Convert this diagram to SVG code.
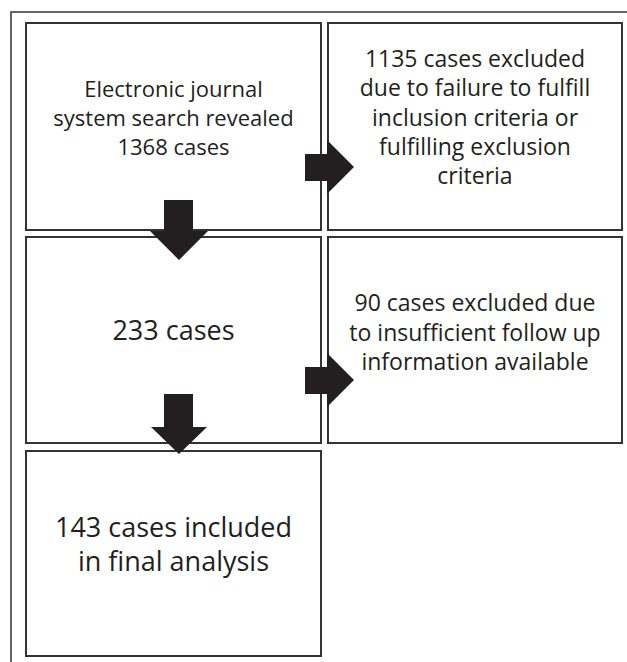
<svg xmlns="http://www.w3.org/2000/svg" width="627" height="662" viewBox="0 0 627 662">
<style>
.box{fill:#fff;stroke:#333;stroke-width:2}
.frame{fill:none;stroke:#333;stroke-width:1.5}
.arrow{fill:#231f20}
text{font-family:"Open Sans","Liberation Sans",sans-serif;fill:#231f20;text-anchor:middle}
.t1{font-size:22px}
.t2{font-size:23px}
.t3{font-size:27px}
.t4{font-size:23px}
.t5{font-size:27px}
</style>
<rect width="627" height="662" fill="#fff"/>
<path class="frame" d="M11,662 V12 H627"/>
<g id="node1">
<rect class="box" x="26" y="23" width="295" height="207"/>
<text class="t1"><tspan x="173.5" y="97">Electronic journal</tspan><tspan x="173.5" y="126">system search revealed</tspan><tspan x="173.5" y="155">1368 cases</tspan></text>
</g>
<g id="node2">
<rect class="box" x="328" y="23" width="294" height="207"/>
<text class="t2"><tspan x="475" y="67">1135 cases excluded</tspan><tspan x="475" y="96">due to failure to fulfill</tspan><tspan x="475" y="126">inclusion criteria or</tspan><tspan x="475" y="155">fulfilling exclusion</tspan><tspan x="475" y="184">criteria</tspan></text>
</g>
<g id="node3">
<rect class="box" x="26" y="237" width="295" height="206"/>
<text class="t3" x="173.5" y="340">233 cases</text>
</g>
<g id="node4">
<rect class="box" x="328" y="237" width="294" height="206"/>
<text class="t4"><tspan x="475" y="311">90 cases excluded due</tspan><tspan x="475" y="340.5">to insufficient follow up</tspan><tspan x="475" y="370">information available</tspan></text>
</g>
<g id="node5">
<rect class="box" x="26" y="451" width="295" height="205"/>
<text class="t5"><tspan x="173.5" y="537">143 cases included</tspan><tspan x="173.5" y="571">in final analysis</tspan></text>
</g>
<g id="connectors">
<polygon class="arrow" points="164,200 193,200 193,231 208,231 179,260 150,231 164,231"/>
<polygon class="arrow" points="164,394 193,394 193,427 207,427 179,454 151,427 164,427"/>
<polygon class="arrow" points="305,154 327,154 327,140 354,167 327,194 327,181 305,181"/>
<polygon class="arrow" points="305,367 327,367 327,353 354,380 327,407 327,394 305,394"/>
</g>
</svg>
